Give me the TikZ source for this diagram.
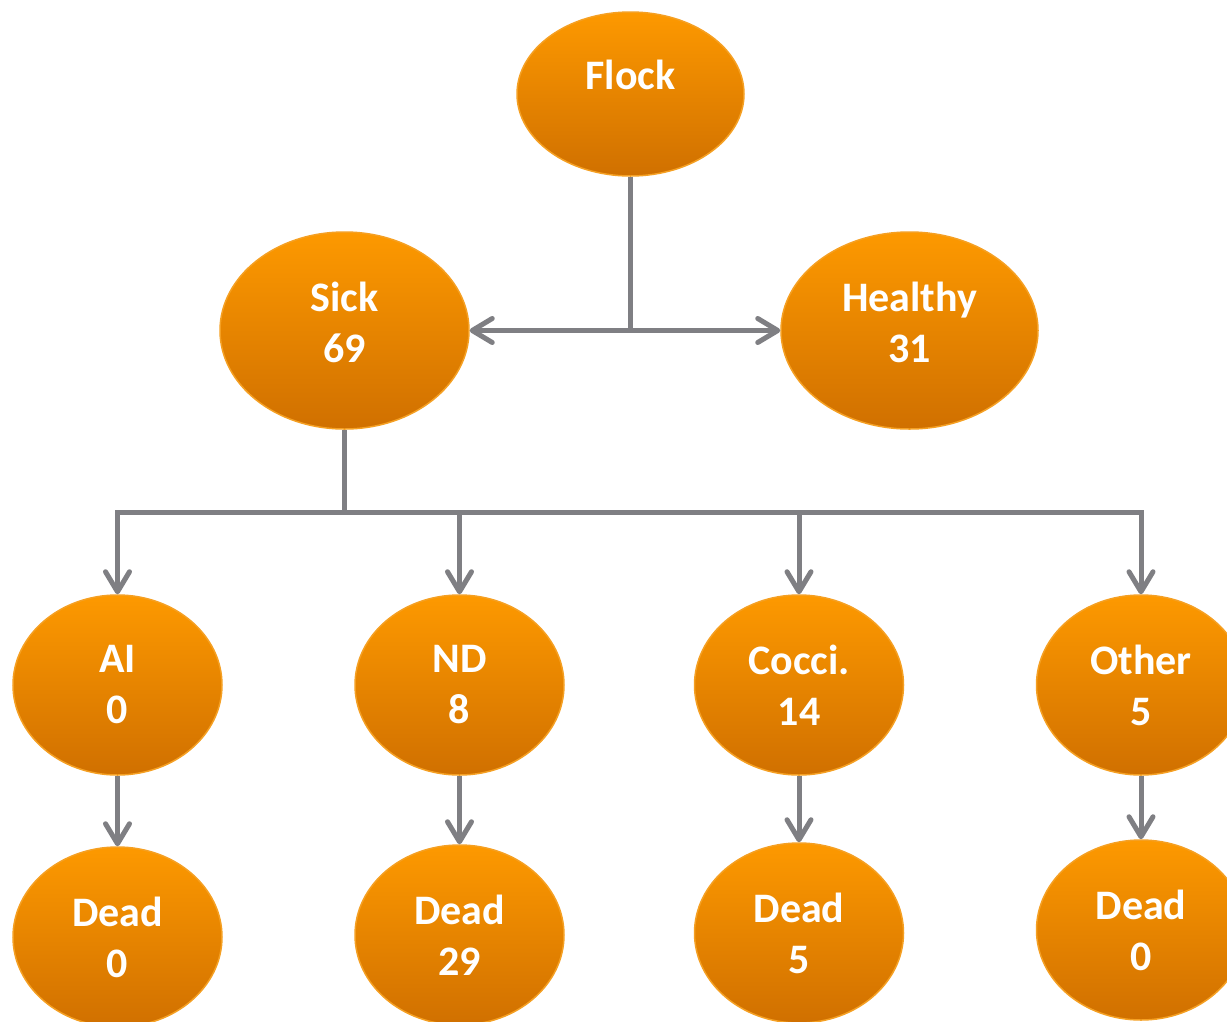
\documentclass[tikz,border=0pt]{standalone}
\usepackage{fontspec}
\setmainfont{Carlito}
\usetikzlibrary{arrows.meta,shapes.geometric}
\definecolor{orangetop}{RGB}{253,153,0}
\definecolor{orangebot}{RGB}{208,112,0}
\definecolor{orangeedge}{RGB}{245,160,35}
\definecolor{linkgray}{RGB}{127,127,131}
\begin{document}
\begin{tikzpicture}[x=1pt,y=-1pt,
  blob/.style={ellipse, draw=orangeedge, line width=1.5pt,
    top color=orangetop, bottom color=orangebot, inner sep=0pt},
  small/.style={blob, minimum width=209pt, minimum height=180pt},
  caption/.style={text=white, font=\fontsize{42}{51}\selectfont\bfseries,
    align=center, inner sep=0pt},
  link/.style={draw=linkgray, line width=5pt},
  arrowlink/.style={link, -{Straight Barb[length=20pt,width=24pt,round]}}
]
\useasboundingbox (0,0) rectangle (1227,1021);

% top level
\node[blob, minimum width=227pt, minimum height=164pt] (flock) at (630.5,94) {};
\node[caption] (flockT) at (630.5,74.5) {Flock};

% second level
\node[blob, minimum width=249pt, minimum height=197pt] (sick) at (344.5,330.5) {};
\node[caption] (sickT) at (344.5,322.5) {Sick\\69};
\node[blob, minimum width=257pt, minimum height=197pt] (healthy) at (909.5,330.5) {};
\node[caption] (healthyT) at (909.5,322.5) {Healthy\\31};

% causes
\node[small] (ai) at (117.5,685) {};
\node[caption] (aiT) at (117.5,685) {AI\\0};
\node[small] (nd) at (459.5,685) {};
\node[caption] (ndT) at (459.5,685) {ND\\8};
\node[small] (cocci) at (799,685) {};
\node[caption] (cocciT) at (799,685) {Cocci.\\14};
\node[small] (other) at (1141,685) {};
\node[caption] (otherT) at (1141,685) {Other\\5};

% deaths
\node[small] (deadA) at (117.5,937) {};
\node[caption] (deadAT) at (117.5,937) {Dead\\0};
\node[small] (deadB) at (459.5,935) {};
\node[caption] (deadBT) at (459.5,935) {Dead\\29};
\node[small] (deadC) at (799,933) {};
\node[caption] (deadCT) at (799,933) {Dead\\5};
\node[small] (deadD) at (1141,930) {};
\node[caption] (deadDT) at (1141,930) {Dead\\0};

% connectors
\coordinate (fork1) at (630.5,330.5);
\draw[link] (flock.south) -- (fork1);
\draw[arrowlink] (fork1) -- (sick.east);
\draw[arrowlink] (fork1) -- (healthy.west);

\coordinate (fork2) at (344.5,512);
\draw[link] (sick.south) -- (fork2);
\draw[arrowlink, line join=miter] (fork2) -| (ai.north);
\draw[arrowlink] (fork2) -| (nd.north);
\draw[arrowlink] (fork2) -| (cocci.north);
\draw[arrowlink, line join=miter] (fork2) -| (other.north);

\draw[arrowlink] (ai.south) -- (deadA.north);
\draw[arrowlink] (nd.south) -- (deadB.north);
\draw[arrowlink] (cocci.south) -- (deadC.north);
\draw[arrowlink] (other.south) -- (deadD.north);
\end{tikzpicture}
\end{document}
